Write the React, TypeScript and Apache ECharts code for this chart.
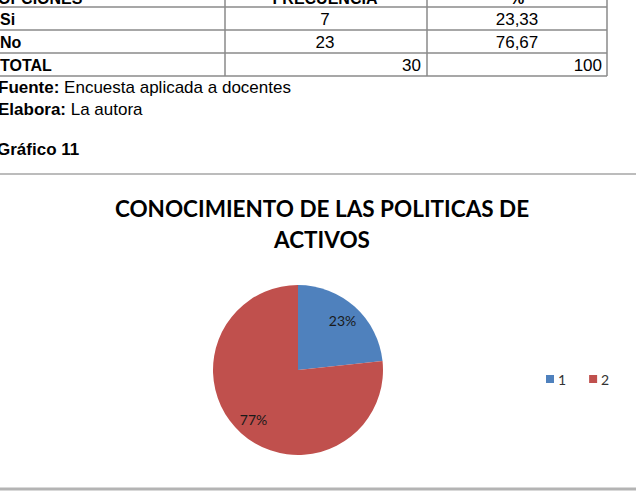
import React, { useEffect, useRef } from "react";
import * as echarts from "echarts";

// ---- data ----
const tableHeaders = ["OPCIONES", "FRECUENCIA", "%"];
const tableOptions = ["Si", "No"];
const tableFreq = ["7", "23"];
const tablePct = ["23,33", "76,67"];
const totalLabel = "TOTAL";
const totalFreq = "30";
const totalPct = "100";

const sourceLabel = "Fuente:";
const sourceText = "Encuesta aplicada a docentes";
const authorLabel = "Elabora:";
const authorText = "La autora";
const figureLabel = "Gráfico 11";

const chartTitle = "CONOCIMIENTO DE LAS POLITICAS DE\nACTIVOS";
const pieCategories = ["1", "2"];
const pieValues = [7, 23];
const pieColors = ["#4F81BD", "#C0504D"];

export default function App() {
  const ref = useRef<HTMLDivElement>(null);

  useEffect(() => {
    if (!ref.current) return;
    const chart = echarts.init(ref.current, null, { renderer: "svg" });

    const tFont = "'Liberation Sans', Arial, sans-serif";
    const lineColor = "#8a8a8a";
    const rowBaselines = [25, 48, 71];
    const colCenters = [325, 517];
    const colRights = [421, 602];

    const graphics: any[] = [];
    // table grid
    [7, 30, 53, 76].forEach((y) => {
      graphics.push({
        type: "line",
        shape: { x1: -2, y1: y, x2: 607, y2: y },
        style: { stroke: lineColor, lineWidth: 1.5 },
      });
    });
    [225, 427, 607].forEach((x) => {
      graphics.push({
        type: "line",
        shape: { x1: x, y1: -2, x2: x, y2: 76 },
        style: { stroke: lineColor, lineWidth: 1.5 },
      });
    });
    // header (cut off at top, as in the reference)
    graphics.push({
      type: "text",
      x: -2,
      y: -2,
      style: { text: tableHeaders[0], font: `bold 16px ${tFont}`, fill: "#000", verticalAlign: "middle", align: "left" },
    });
    graphics.push({
      type: "text",
      x: colCenters[0],
      y: -2,
      style: { text: tableHeaders[1], font: `bold 16px ${tFont}`, fill: "#000", verticalAlign: "middle", align: "center" },
    });
    graphics.push({
      type: "text",
      x: colCenters[1],
      y: -2,
      style: { text: tableHeaders[2], font: `bold 16px ${tFont}`, fill: "#000", verticalAlign: "middle", align: "center" },
    });
    tableOptions.forEach((opt, i) => {
      const y = rowBaselines[i] - 6;
      graphics.push({
        type: "text",
        x: 0,
        y,
        style: { text: opt, font: `bold 16px ${tFont}`, fill: "#000", verticalAlign: "middle", align: "left" },
      });
      graphics.push({
        type: "text",
        x: colCenters[0],
        y,
        style: { text: tableFreq[i], font: `17px ${tFont}`, fill: "#000", verticalAlign: "middle", align: "center" },
      });
      graphics.push({
        type: "text",
        x: colCenters[1],
        y,
        style: { text: tablePct[i], font: `17px ${tFont}`, fill: "#000", verticalAlign: "middle", align: "center" },
      });
    });
    {
      const y = rowBaselines[2] - 6;
      graphics.push({
        type: "text",
        x: 0,
        y,
        style: { text: totalLabel, font: `bold 16px ${tFont}`, fill: "#000", verticalAlign: "middle", align: "left" },
      });
      graphics.push({
        type: "text",
        x: colRights[0],
        y,
        style: { text: totalFreq, font: `17px ${tFont}`, fill: "#000", verticalAlign: "middle", align: "right" },
      });
      graphics.push({
        type: "text",
        x: colRights[1],
        y,
        style: { text: totalPct, font: `17px ${tFont}`, fill: "#000", verticalAlign: "middle", align: "right" },
      });
    }
    // notes
    const richStyle = {
      b: { fontFamily: tFont, fontWeight: "bold", fontSize: 17, fill: "#000", color: "#000" },
      r: { fontFamily: tFont, fontSize: 17, fill: "#000", color: "#000" },
    };
    graphics.push({
      type: "text",
      x: -2,
      y: 87,
      style: { text: `{b|${sourceLabel}}{r| ${sourceText}}`, rich: richStyle, verticalAlign: "middle", align: "left" },
    });
    graphics.push({
      type: "text",
      x: -2,
      y: 109,
      style: { text: `{b|${authorLabel}}{r| ${authorText}}`, rich: richStyle, verticalAlign: "middle", align: "left" },
    });
    graphics.push({
      type: "text",
      x: -3,
      y: 149,
      style: { text: figureLabel, font: `bold 17px ${tFont}`, fill: "#000", verticalAlign: "middle", align: "left" },
    });
    // separators
    graphics.push({
      type: "line",
      shape: { x1: 0, y1: 174, x2: 636, y2: 174 },
      style: { stroke: "#a6a6a6", lineWidth: 1.5 },
    });
    graphics.push({
      type: "line",
      shape: { x1: 0, y1: 489, x2: 636, y2: 489 },
      style: { stroke: "#b4b4b4", lineWidth: 3 },
    });

    chart.setOption({
      animation: false,
      title: {
        text: chartTitle,
        left: 317,
        textAlign: "center",
        top: 188,
        textStyle: {
          fontFamily: "Lato, 'Open Sans', sans-serif",
          fontWeight: "bold",
          fontSize: 22.5,
          lineHeight: 31,
          color: "#000",
        },
      },
      legend: {
        data: pieCategories.map((n, i) => ({ name: n, itemStyle: { color: pieColors[i] } })),
        left: 541,
        top: 367,
        orient: "horizontal",
        icon: "rect",
        itemWidth: 8,
        itemHeight: 8,
        itemGap: 23,
        textStyle: { fontFamily: "Lato, sans-serif", fontSize: 14, color: "#333", padding: [0, 0, 0, -1] },
        selectedMode: false,
      },
      graphic: graphics,
      series: [
        {
          type: "pie",
          center: [298, 370],
          radius: [0, 85],
          startAngle: 90,
          clockwise: true,
          label: { show: false },
          labelLine: { show: false },
          itemStyle: { borderWidth: 0 },
          emphasis: { disabled: true },
          data: pieCategories.map((n, i) => ({ name: n, value: pieValues[i], itemStyle: { color: pieColors[i] } })),
        },
        {
          type: "pie",
          center: [298, 370],
          radius: [42, 85],
          startAngle: 90,
          clockwise: true,
          silent: true,
          itemStyle: { color: "rgba(0,0,0,0)", borderWidth: 0 },
          emphasis: { disabled: true },
          label: {
            show: true,
            position: "inner",
            formatter: (p: any) => Math.round(p.percent) + "%",
            fontFamily: "Lato, sans-serif",
            fontSize: 14,
            color: "#1a1a1a",
          },
          labelLine: { show: false },
          data: pieCategories.map((n, i) => ({ name: n, value: pieValues[i] })),
        },
      ],
    });

    return () => chart.dispose();
  }, []);

  return (
    <div
      ref={ref}
      style={{ position: "fixed", left: 0, top: 0, width: 636, height: 493, background: "#fff" }}
    />
  );
}
